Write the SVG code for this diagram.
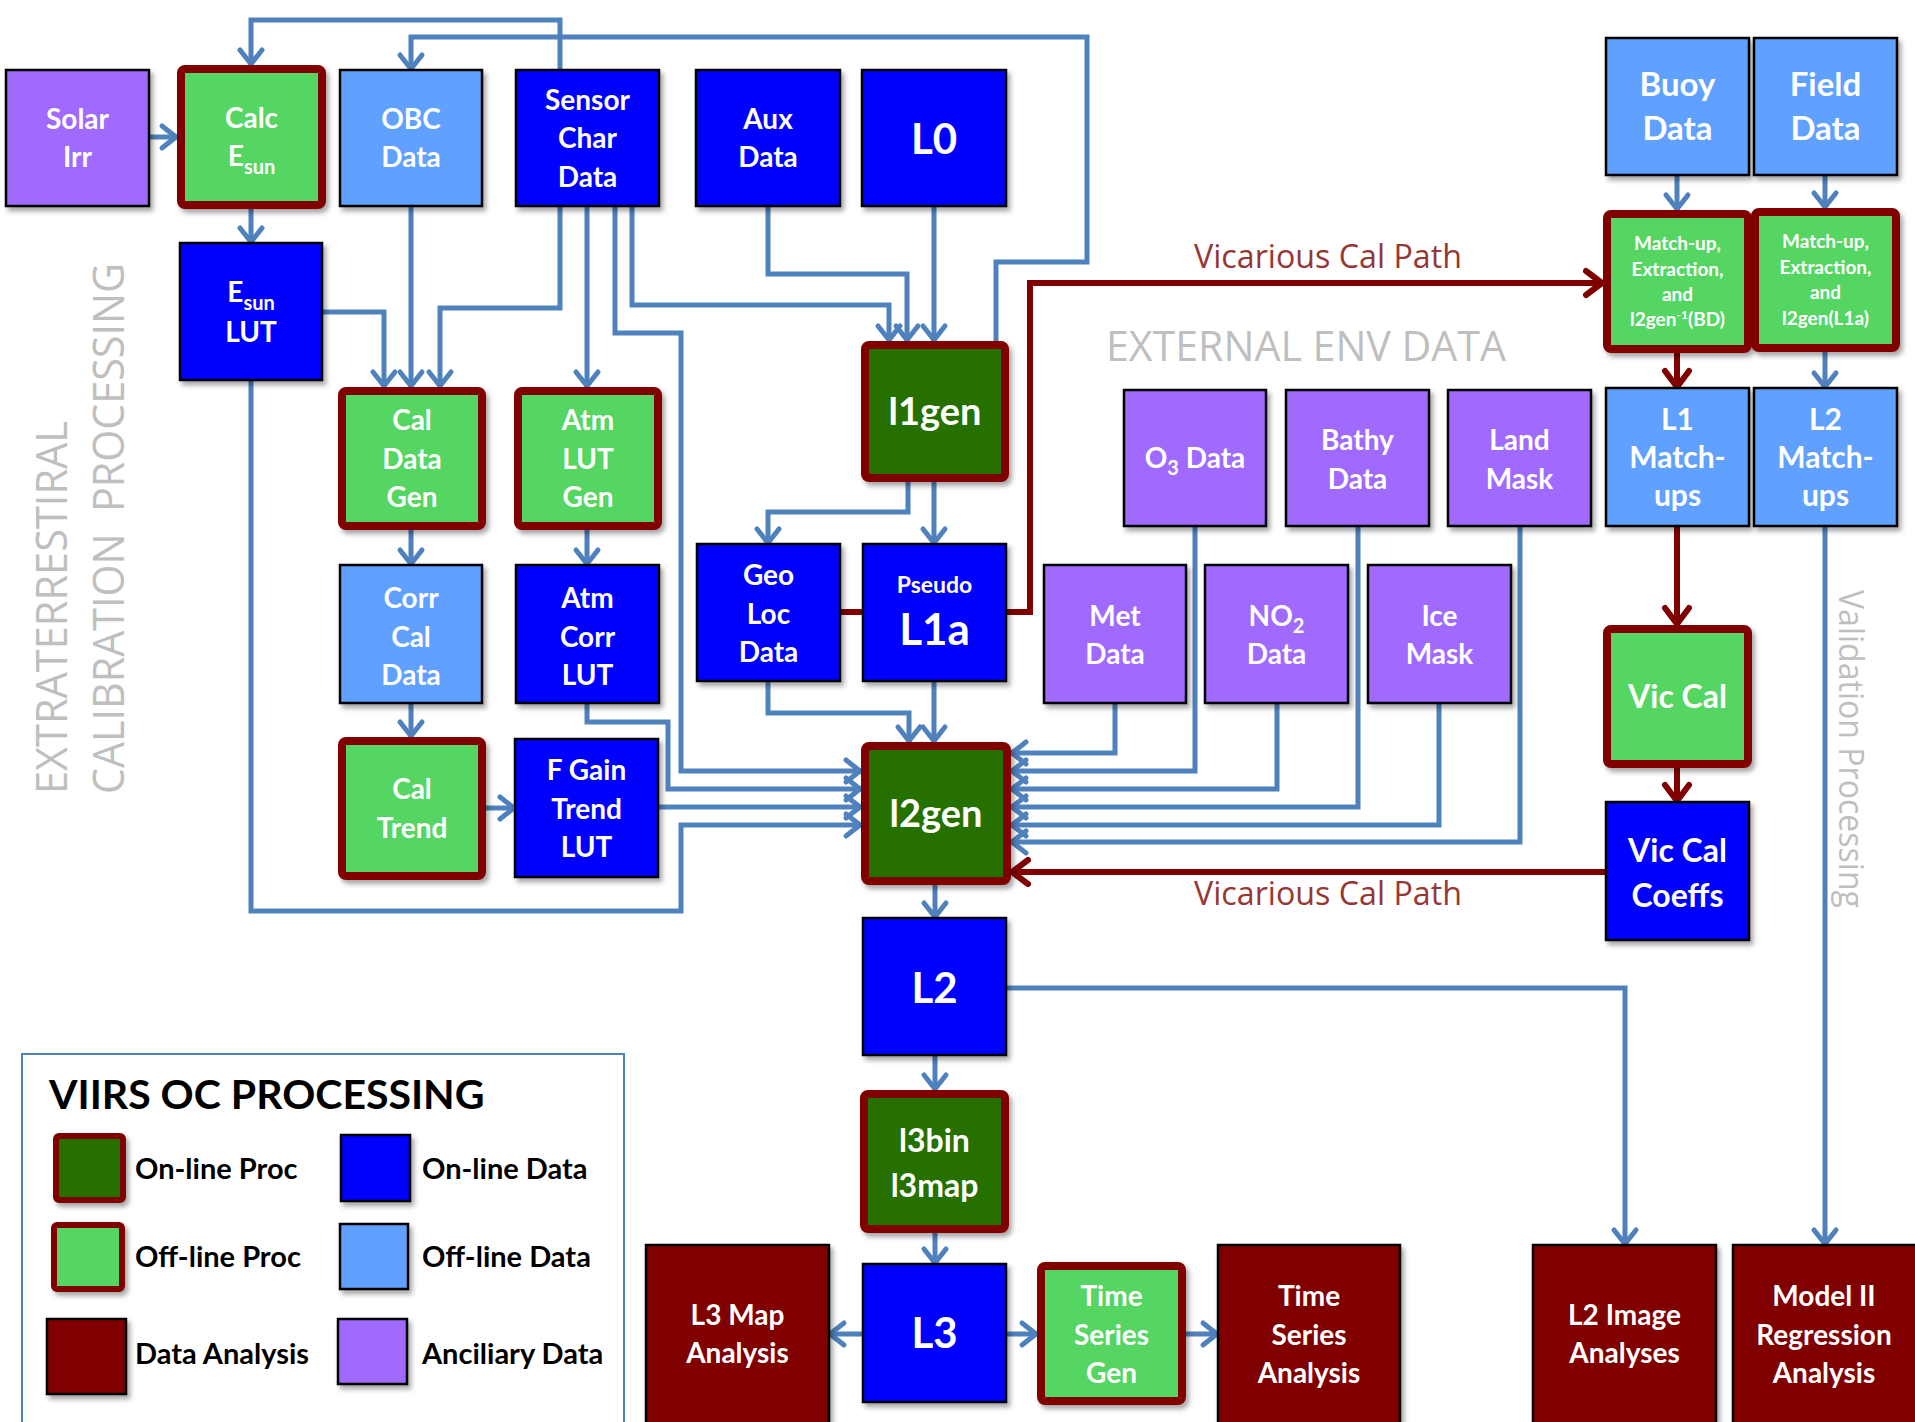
<svg xmlns="http://www.w3.org/2000/svg" width="1915" height="1422" viewBox="0 0 1915 1422">
<defs>
<filter id="sh" x="-10%" y="-10%" width="130%" height="130%">
<feDropShadow dx="3" dy="4" stdDeviation="2.5" flood-color="#000" flood-opacity="0.35"/>
</filter>
<marker id="ab" markerUnits="userSpaceOnUse" markerWidth="40" markerHeight="40" viewBox="-20 -20 40 40" refX="0" refY="0" orient="auto" overflow="visible">
<path d="M-15,-11 L-1,0 L-15,11" fill="none" stroke="#4F81BD" stroke-width="5" stroke-linecap="round" stroke-linejoin="round"/>
</marker>
<marker id="ar" markerUnits="userSpaceOnUse" markerWidth="40" markerHeight="40" viewBox="-20 -20 40 40" refX="0" refY="0" orient="auto" overflow="visible">
<path d="M-17,-12 L-1,0 L-17,12" fill="none" stroke="#800000" stroke-width="6" stroke-linecap="round" stroke-linejoin="round"/>
</marker>
</defs>
<style>
.n rect{filter:url(#sh)}
.d{stroke:#000;stroke-width:2.5}
.p{stroke:#800000;stroke-width:8}
.da{fill:#800000;stroke:#000;stroke-width:2.5}
.blue{fill:#0000FF}
.lblue{fill:#61A0FF}
.purple{fill:#A06BFF}
.lgreen{fill:#54D664}
.dgreen{fill:#267000}
text{font-family:Lato,"Liberation Sans",sans-serif;font-weight:bold}
.l{fill:#fff;text-anchor:middle;font-size:28px}
.f19{font-size:19px}
.f23{font-size:23px}
.f30{font-size:30px}
.f32{font-size:32px}
.f33{font-size:33px}
.f38{font-size:38px}
.f42{font-size:42px}
.f44{font-size:44px}
.gray{font-family:"Open Sans","Liberation Sans",sans-serif;font-weight:normal;fill:#BFBFBF}
.vic{font-family:"Open Sans","Liberation Sans",sans-serif;font-weight:normal;fill:#953735;font-size:32px}
.c{fill:none;stroke:#4F81BD;stroke-width:5;marker-end:url(#ab)}
.r{fill:none;stroke:#800000;stroke-width:6;marker-end:url(#ar)}
.leg{fill:#000;font-size:29px}
</style>
<rect width="1915" height="1422" fill="#fff"/>

<!-- background labels -->
<text class="gray" font-size="43" textLength="373" lengthAdjust="spacingAndGlyphs" transform="translate(67,794) rotate(-90)">EXTRATERRESTIRAL</text>
<text class="gray" font-size="43" textLength="531" lengthAdjust="spacingAndGlyphs" transform="translate(124,794) rotate(-90)" xml:space="preserve">CALIBRATION  PROCESSING</text>
<text class="gray" font-size="34" textLength="318" lengthAdjust="spacingAndGlyphs" transform="translate(1839,590) rotate(90)">Validation Processing</text>
<text class="gray" x="1106" y="361" font-size="42" textLength="400" lengthAdjust="spacingAndGlyphs">EXTERNAL ENV DATA</text>
<text class="vic" x="1194" y="268" textLength="268" lengthAdjust="spacingAndGlyphs">Vicarious Cal Path</text>
<text class="vic" x="1194" y="905" textLength="268" lengthAdjust="spacingAndGlyphs">Vicarious Cal Path</text>

<g id="connectors">
<path class="c" d="M149,137 H177"/>
<path class="c" d="M560,70 V20 H251 V65"/>
<path class="c" d="M251,209 V243"/>
<path class="c" d="M996,341 V262 H1087 V37 H411 V70"/>
<path class="c" d="M322,312 H384 V387"/>
<path class="c" d="M411,206 V387"/>
<path class="c" d="M560,206 V308 H440 V387"/>
<path class="c" d="M587,206 V387"/>
<path class="c" d="M615,206 V333 H681 V771 H861"/>
<path class="c" d="M632,206 V305 H889 V341"/>
<path class="c" d="M768,206 V274 H907 V341"/>
<path class="c" d="M934,206 V341"/>
<path class="c" d="M908,482 V512 H768 V544"/>
<path class="c" d="M934,482 V544"/>
<path class="c" d="M768,681 V713 H909 V742"/>
<path class="c" d="M934,681 V742"/>
<path class="c" d="M411,530 V565"/>
<path class="c" d="M587,530 V565"/>
<path class="c" d="M411,703 V737"/>
<path class="c" d="M486,808 H515"/>
<path class="c" d="M587,703 V722 H668 V789 H861"/>
<path class="c" d="M658,807 H861"/>
<path class="c" d="M251,380 V911 H681 V825 H861"/>
<path class="c" d="M1115,703 V753 H1011"/>
<path class="c" d="M1195,526 V771 H1011"/>
<path class="c" d="M1277,703 V789 H1011"/>
<path class="c" d="M1358,526 V807 H1011"/>
<path class="c" d="M1439,703 V825 H1011"/>
<path class="c" d="M1520,526 V842 H1011"/>
<path class="c" d="M935,885 V918"/>
<path class="c" d="M935,1055 V1090"/>
<path class="c" d="M935,1233 V1264"/>
<path class="c" d="M863,1334 H829"/>
<path class="c" d="M1006,1334 H1037"/>
<path class="c" d="M1186,1334 H1218"/>
<path class="c" d="M1006,988 H1625 V1245"/>
<path class="c" d="M1677,175 V210"/>
<path class="c" d="M1825,175 V208"/>
<path class="c" d="M1825,352 V388"/>
<path class="c" d="M1825,526 V1245"/>
<path class="r" d="M841,612 H1030 V283 H1603"/>
<path class="r" d="M1677,353 V388"/>
<path class="r" d="M1677,526 V625"/>
<path class="r" d="M1677,768 V802"/>
<path class="r" d="M1606,872 H1011"/>
</g>

<g id="solar-irr" class="n"><rect class="d purple" x="6" y="70" width="143" height="136"/>
<text class="l" x="77.5" y="129">Solar</text><text class="l" x="77.5" y="167">Irr</text></g>
<g id="calc-esun" class="n"><rect class="p lgreen" x="181" y="69" width="141" height="136" rx="4"/>
<text class="l" x="251.5" y="128">Calc</text><text class="l" x="251.5" y="166">E<tspan font-size="20" dy="8">sun</tspan></text></g>
<g id="obc-data" class="n"><rect class="d lblue" x="340" y="70" width="142" height="136"/>
<text class="l" x="411" y="129">OBC</text><text class="l" x="411" y="167">Data</text></g>
<g id="sensor-char-data" class="n"><rect class="d blue" x="516" y="70" width="143" height="136"/>
<text class="l" x="587.5" y="110">Sensor</text><text class="l" x="587.5" y="148">Char</text><text class="l" x="587.5" y="187">Data</text></g>
<g id="aux-data" class="n"><rect class="d blue" x="696" y="70" width="144" height="136"/>
<text class="l" x="768" y="129">Aux</text><text class="l" x="768" y="167">Data</text></g>
<g id="l0" class="n"><rect class="d blue" x="862" y="70" width="144" height="136"/>
<text class="l f42" x="934" y="154">L0</text></g>
<g id="esun-lut" class="n"><rect class="d blue" x="180" y="243" width="142" height="137"/>
<text class="l" x="251" y="302">E<tspan font-size="20" dy="8">sun</tspan></text><text class="l" x="251" y="342">LUT</text></g>
<g id="cal-data-gen" class="n"><rect class="p lgreen" x="342" y="391" width="140" height="135" rx="4"/>
<text class="l" x="412" y="430">Cal</text><text class="l" x="412" y="469">Data</text><text class="l" x="412" y="507">Gen</text></g>
<g id="atm-lut-gen" class="n"><rect class="p lgreen" x="518" y="391" width="140" height="135" rx="4"/>
<text class="l" x="588" y="430">Atm</text><text class="l" x="588" y="469">LUT</text><text class="l" x="588" y="507">Gen</text></g>
<g id="l1gen" class="n"><rect class="p dgreen" x="865" y="345" width="140" height="133" rx="4"/>
<text class="l f38" x="935" y="425">l1gen</text></g>
<g id="geo-loc-data" class="n"><rect class="d blue" x="697" y="544" width="143" height="137"/>
<text class="l" x="768.5" y="585">Geo</text><text class="l" x="768.5" y="624">Loc</text><text class="l" x="768.5" y="662">Data</text></g>
<g id="pseudo-l1a" class="n"><rect class="d blue" x="863" y="544" width="143" height="137"/>
<text class="l f23" x="934.5" y="593">Pseudo</text><text class="l f44" x="934.5" y="645">L1a</text></g>
<g id="corr-cal-data" class="n"><rect class="d lblue" x="340" y="565" width="142" height="138"/>
<text class="l" x="411" y="608">Corr</text><text class="l" x="411" y="647">Cal</text><text class="l" x="411" y="685">Data</text></g>
<g id="atm-corr-lut" class="n"><rect class="d blue" x="516" y="565" width="143" height="138"/>
<text class="l" x="587.5" y="608">Atm</text><text class="l" x="587.5" y="647">Corr</text><text class="l" x="587.5" y="685">LUT</text></g>
<g id="cal-trend" class="n"><rect class="p lgreen" x="342" y="741" width="140" height="135" rx="4"/>
<text class="l" x="412" y="799">Cal</text><text class="l" x="412" y="838">Trend</text></g>
<g id="f-gain-trend-lut" class="n"><rect class="d blue" x="515" y="739" width="143" height="138"/>
<text class="l" x="586.5" y="780">F Gain</text><text class="l" x="586.5" y="819">Trend</text><text class="l" x="586.5" y="857">LUT</text></g>
<g id="l2gen" class="n"><rect class="p dgreen" x="865" y="746" width="142" height="135" rx="4"/>
<text class="l f38" x="936" y="827">l2gen</text></g>
<g id="l2" class="n"><rect class="d blue" x="863" y="918" width="143" height="137"/>
<text class="l f42" x="934.5" y="1003">L2</text></g>
<g id="l3bin-l3map" class="n"><rect class="p dgreen" x="864" y="1094" width="141" height="135" rx="4"/>
<text class="l f32" x="934.5" y="1152">l3bin</text><text class="l f32" x="934.5" y="1197">l3map</text></g>
<g id="l3" class="n"><rect class="d blue" x="863" y="1264" width="143" height="138"/>
<text class="l f42" x="934.5" y="1348">L3</text></g>
<g id="l3-map-analysis" class="n"><rect class="da" x="646" y="1245" width="183" height="185"/>
<text class="l" x="737.5" y="1325">L3 Map</text><text class="l" x="737.5" y="1363">Analysis</text></g>
<g id="time-series-gen" class="n"><rect class="p lgreen" x="1041" y="1266" width="141" height="135" rx="4"/>
<text class="l" x="1111.5" y="1306">Time</text><text class="l" x="1111.5" y="1345">Series</text><text class="l" x="1111.5" y="1383">Gen</text></g>
<g id="time-series-analysis" class="n"><rect class="da" x="1218" y="1245" width="182" height="185"/>
<text class="l" x="1309" y="1306">Time</text><text class="l" x="1309" y="1345">Series</text><text class="l" x="1309" y="1383">Analysis</text></g>
<g id="l2-image-analyses" class="n"><rect class="da" x="1533" y="1245" width="183" height="185"/>
<text class="l" x="1624.5" y="1325">L2 Image</text><text class="l" x="1624.5" y="1363">Analyses</text></g>
<g id="model-ii-regression-analysis" class="n"><rect class="da" x="1733" y="1245" width="190" height="185"/>
<text class="l" x="1824" y="1306">Model II</text><text class="l" x="1824" y="1345">Regression</text><text class="l" x="1824" y="1383">Analysis</text></g>
<g id="o3-data" class="n"><rect class="d purple" x="1124" y="390" width="142" height="136"/>
<text class="l" x="1195" y="468">O<tspan font-size="20" dy="7">3</tspan><tspan dy="-7"> Data</tspan></text></g>
<g id="bathy-data" class="n"><rect class="d purple" x="1286" y="390" width="143" height="136"/>
<text class="l" x="1357.5" y="450">Bathy</text><text class="l" x="1357.5" y="489">Data</text></g>
<g id="land-mask" class="n"><rect class="d purple" x="1448" y="390" width="143" height="136"/>
<text class="l" x="1519.5" y="450">Land</text><text class="l" x="1519.5" y="489">Mask</text></g>
<g id="met-data" class="n"><rect class="d purple" x="1044" y="565" width="142" height="138"/>
<text class="l" x="1115" y="626">Met</text><text class="l" x="1115" y="664">Data</text></g>
<g id="no2-data" class="n"><rect class="d purple" x="1205" y="565" width="143" height="138"/>
<text class="l" x="1276.5" y="626">NO<tspan font-size="20" dy="7">2</tspan></text><text class="l" x="1276.5" y="664">Data</text></g>
<g id="ice-mask" class="n"><rect class="d purple" x="1368" y="565" width="143" height="138"/>
<text class="l" x="1439.5" y="626">Ice</text><text class="l" x="1439.5" y="664">Mask</text></g>
<g id="buoy-data" class="n"><rect class="d lblue" x="1606" y="38" width="143" height="137"/>
<text class="l f33" x="1677.5" y="96">Buoy</text><text class="l f33" x="1677.5" y="140">Data</text></g>
<g id="field-data" class="n"><rect class="d lblue" x="1754" y="38" width="143" height="137"/>
<text class="l f33" x="1825.5" y="96">Field</text><text class="l f33" x="1825.5" y="140">Data</text></g>
<g id="matchup-bd" class="n"><rect class="p lgreen" x="1607" y="214" width="141" height="135" rx="4"/>
<text class="l f19" x="1677.5" y="250">Match-up,</text><text class="l f19" x="1677.5" y="276">Extraction,</text><text class="l f19" x="1677.5" y="301">and</text><text class="l f19" x="1677.5" y="326">l2gen<tspan font-size="12" dy="-7">-1</tspan><tspan dy="7">(BD)</tspan></text></g>
<g id="matchup-l1a" class="n"><rect class="p lgreen" x="1755" y="212" width="141" height="136" rx="4"/>
<text class="l f19" x="1825.5" y="248">Match-up,</text><text class="l f19" x="1825.5" y="274">Extraction,</text><text class="l f19" x="1825.5" y="299">and</text><text class="l f19" x="1825.5" y="325">l2gen(L1a)</text></g>
<g id="l1-matchups" class="n"><rect class="d lblue" x="1606" y="388" width="143" height="138"/>
<text class="l f30" x="1677.5" y="430">L1</text><text class="l f30" x="1677.5" y="468">Match-</text><text class="l f30" x="1677.5" y="506">ups</text></g>
<g id="l2-matchups" class="n"><rect class="d lblue" x="1754" y="388" width="143" height="138"/>
<text class="l f30" x="1825.5" y="430">L2</text><text class="l f30" x="1825.5" y="468">Match-</text><text class="l f30" x="1825.5" y="506">ups</text></g>
<g id="vic-cal" class="n"><rect class="p lgreen" x="1607" y="629" width="141" height="135" rx="4"/>
<text class="l f32" x="1677.5" y="708">Vic Cal</text></g>
<g id="vic-cal-coeffs" class="n"><rect class="d blue" x="1606" y="802" width="143" height="138"/>
<text class="l f32" x="1677.5" y="862">Vic Cal</text><text class="l f32" x="1677.5" y="907">Coeffs</text></g>

<g id="legend">
<rect x="22" y="1054" width="602" height="380" fill="#fff" stroke="#4F81BD" stroke-width="2"/>
<text x="49" y="1109" font-size="41" fill="#000">VIIRS OC PROCESSING</text>
<g class="n">
<rect class="p dgreen" x="56" y="1136" width="67" height="64" rx="3" style="stroke-width:6"/>
<rect class="d blue" x="341" y="1135" width="69" height="66"/>
<rect class="p lgreen" x="54" y="1225" width="68" height="64" rx="3" style="stroke-width:6"/>
<rect class="d lblue" x="340" y="1224" width="68" height="65"/>
<rect class="da" x="47" y="1319" width="79" height="75"/>
<rect class="d purple" x="338" y="1319" width="69" height="65"/>
</g>
<text class="leg" x="135" y="1179">On-line Proc</text>
<text class="leg" x="422" y="1179">On-line Data</text>
<text class="leg" x="135" y="1267">Off-line Proc</text>
<text class="leg" x="422" y="1267">Off-line Data</text>
<text class="leg" x="135" y="1364">Data Analysis</text>
<text class="leg" x="422" y="1364">Anciliary Data</text>
</g>
</svg>
